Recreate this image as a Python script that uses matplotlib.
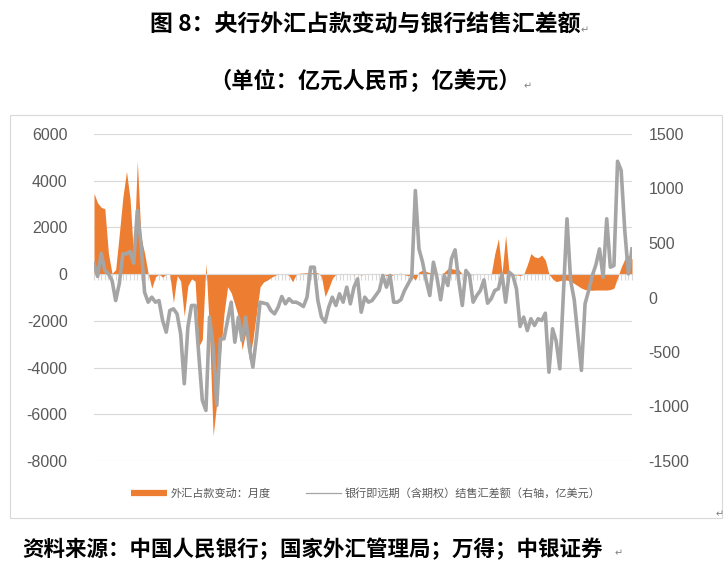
"""
央行外汇占款变动与银行结售汇差额 (图 8) - 重画版
"""
import numpy as np
import matplotlib
matplotlib.use("Agg")
import matplotlib.pyplot as plt
from matplotlib.lines import Line2D
from matplotlib.patches import Rectangle

# 外汇占款变动：月度（亿元人民币，左轴）
fx_change = [
    3460, 3050, 2860, 2800, 880, 30, 200, 1700, 3300, 4400,
    3200, 700, 4850, 1600, 900, 30, -600, -115, 0, -130,
    0, -20, -1220, -50, -300, -1800, -500, -200, -300, -3100,
    -2800, 470, -2500, -6920, -5500, -3500, -1700, -540, -800, -1300,
    -1820, -3230, -2520, -3660, -2810, -1670, -540, -330, -255, -150,
    -60, 0, 0, 0, -50, -330, 0, 40, 50, 60,
    60, 80, 60, -100, -965, -600, -180, 0, 0, -20,
    10, 0, -30, 20, -40, 10, 0, 20, -20, 30,
    0, -60, -115, 0, 20, 40, -30, -60, -100, -255,
    100, 170, 120, 60, 100, 40, 0, 80, 240, 240,
    200, 200, 0, -20, -40, -20, 10, 0, -10, 10,
    0, 880, 1520, 30, 1660, 0, -60, -30, -60, 0,
    400, 880, 740, 700, 820, 600, 0, -200, -320, -280,
    -255, -255, -300, -400, -500, -600, -660, -680, -690, -680,
    -680, -680, -680, -660, -600, -150, 300, 650, 820, 650,
]

# 银行即远期（含期权）结售汇差额（亿美元，右轴）
bank_fx = [
    310, 193, 406, 248, 217, 156, -28, 126, 400, 400,
    422, 315, 798, 500, 49, -43, 3, -43, -28, -211,
    -318, -119, -104, -150, -333, -791, -272, -73, -73, -516,
    -944, -1036, -180, -456, -990, -379, -379, -211, -43, -410,
    -180, -394, -180, -456, -639, -364, -43, -52, -60, -120,
    -150, -89, 9, -58, -12, -43, -43, -60, -83, 3,
    278, 278, -28, -180, -226, -89, 3, -73, 34, -43,
    95, -58, 95, 171, -135, 3, -43, -28, 18, 64,
    202, 95, 202, -43, -43, -20, 64, 126, 186, 981,
    446, 324, 156, 18, 324, 180, -21, 202, 110, 355,
    437, 156, -73, 248, 202, -43, 18, 64, 162, -52,
    -12, 64, 80, 217, -43, 232, 202, 80, -266, -180,
    -303, -195, -257, -195, -211, -144, -685, -287, -400, -654,
    30, 722, 156, -20, -350, -669, -58, 64, 200, 300,
    446, 186, 722, 278, 293, 1250, 1165, 614, 217, 446,
]

left_ticks = [-8000, -6000, -4000, -2000, 0, 2000, 4000, 6000]
right_ticks = [-1500, -1000, -500, 0, 500, 1000, 1500]

title = "图 8：央行外汇占款变动与银行结售汇差额"
subtitle = "（单位：亿元人民币；亿美元）"
source = "资料来源：中国人民银行；国家外汇管理局；万得；中银证券"
label_fx = "外汇占款变动：月度"
label_bank = "银行即远期（含期权）结售汇差额（右轴，亿美元）"

ORANGE = "#ed7d31"
GREY = "#a5a5a5"
LABEL = "#595959"
GRID = "#d9d9d9"

W, H = 728, 572

plt.rcParams["font.family"] = ["Liberation Sans", "Noto Sans CJK SC", "DejaVu Sans"]
plt.rcParams["axes.unicode_minus"] = False


def fx(px):
    return px / W


def fy(py):
    return 1 - py / H


def main():
    x = np.arange(len(fx_change))

    fig = plt.figure(figsize=(W / 100, H / 100), dpi=100)
    fig.patch.set_facecolor("white")

    # 图表外框
    fig.patches.append(Rectangle((fx(10), fy(518)), fx(712), (518 - 115) / H,
                                 transform=fig.transFigure, fill=False,
                                 edgecolor=GRID, linewidth=0.8))

    ax = fig.add_axes([fx(94), fy(461), fx(632 - 94), (461 - 134) / H])
    ax.fill_between(x, 0, fx_change, color=ORANGE, linewidth=0, zorder=1)
    ax.set_xlim(0, len(x) - 1)
    ax.set_ylim(-8000, 6000)
    ax.set_yticks(left_ticks)
    ax.set_yticklabels([str(v) for v in left_ticks])
    ax.grid(axis="y", color=GRID, linewidth=0.8)
    ax.set_axisbelow(True)
    for side in ["top", "left", "right"]:
        ax.spines[side].set_visible(False)
    ax.spines["bottom"].set_position(("data", 0))
    ax.spines["bottom"].set_color(GRID)
    ax.spines["bottom"].set_linewidth(0.8)
    ax.spines["bottom"].set_zorder(3)
    ax.set_xticks(x)
    ax.set_xticklabels([])
    ax.tick_params(axis="x", direction="out", length=4, width=0.8, color=GRID)
    ax.tick_params(axis="y", length=0, pad=19, labelsize=11.5, labelcolor=LABEL)

    ax2 = ax.twinx()
    ax2.plot(x, bank_fx, color=GREY, linewidth=2.6, solid_joinstyle="round")
    ax2.set_ylim(-1500, 1500)
    ax2.set_yticks(right_ticks)
    ax2.set_yticklabels([str(v) for v in right_ticks])
    for side in ["top", "left", "right", "bottom"]:
        ax2.spines[side].set_visible(False)
    ax2.tick_params(axis="y", length=0, pad=12, labelsize=11.5, labelcolor=LABEL)

    handles = [Line2D([], [], color=ORANGE, linewidth=4.5, solid_capstyle="butt"),
               Line2D([], [], color=GREY, linewidth=0.9)]
    fig.legend(handles, [label_fx, label_bank], loc="center",
               bbox_to_anchor=(fx(366), fy(493)), ncol=2, frameon=False,
               prop={"family": ["Noto Sans CJK SC", "DejaVu Sans"], "size": 8},
               labelcolor=LABEL, handlelength=3.2, handletextpad=0.3,
               columnspacing=3.2)

    cjk = ["Noto Sans CJK SC", "DejaVu Sans"]
    fig.text(fx(365), fy(25), title, ha="center", va="center", fontsize=16.5,
             fontweight="bold", family=cjk, color="black")
    fig.text(fx(365), fy(81), subtitle, ha="center", va="center", fontsize=16,
             fontweight="bold", family=cjk, color="black")
    fig.text(fx(22), fy(549), source, ha="left", va="center", fontsize=15.5,
             fontweight="bold", family=cjk, color="black")

    # Word 段落标记
    for px, py in [(585, 30), (528, 86), (619, 553), (720, 514)]:
        fig.text(fx(px), fy(py), "↵", ha="center", va="center", fontsize=7,
                 family="DejaVu Sans", color="#808080")

    fig.savefig("out.png", dpi=100)
    plt.close(fig)


if __name__ == "__main__":
    main()
